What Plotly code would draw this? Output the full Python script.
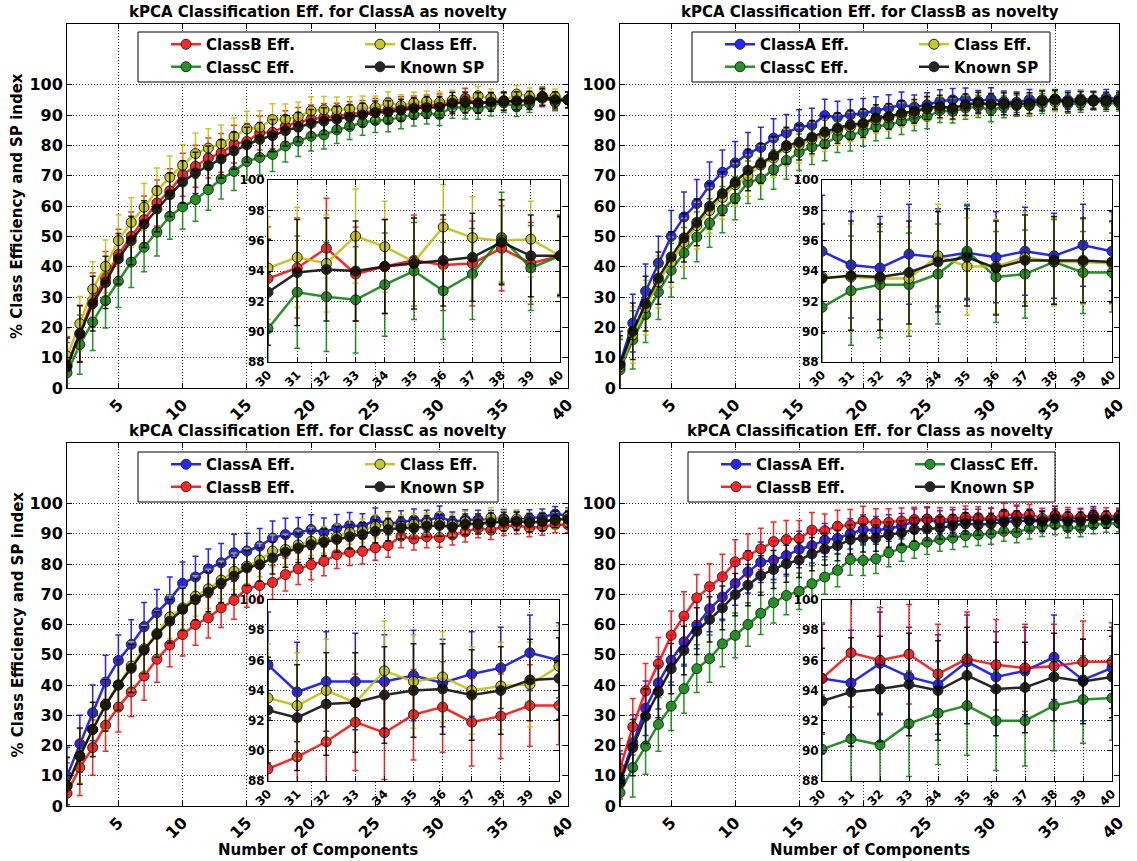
import plotly.graph_objects as go

W, H = 1137, 861
components = list(range(1, 41))

# ---------------- Panel 1: ClassA as novelty ----------------
p1_classB = [7.5, 18.0, 29.0, 36.3, 44.0, 50.0, 55.5, 61.0, 65.0, 70.3,
             73.1, 75.8, 77.5, 80.4, 81.3, 84.1, 84.3, 86.3, 87.6, 88.6,
             89.2, 89.6, 90.3, 90.8, 91.5, 91.8, 92.4, 92.8, 93.2,
             93.5, 94.2, 95.5, 93.8, 94.3, 94.7, 94.4, 94.5, 95.5, 94.5, 95.0]
p1_classC = [5.0, 14.3, 21.8, 28.8, 35.2, 41.5, 46.4, 51.4, 56.6, 59.7,
             62.1, 65.4, 68.9, 71.4, 74.7, 76.0, 77.0, 79.8, 81.4, 83.0,
             83.5, 85.1, 86.2, 87.5, 88.2, 88.4, 89.3, 90.1, 90.6,
             90.2, 92.6, 92.3, 92.1, 93.1, 94.0, 92.7, 93.8, 96.2, 94.2, 95.0]
p1_class = [10.5, 21.2, 32.6, 40.1, 48.6, 54.6, 59.6, 65.0, 69.5, 73.4,
            77.3, 79.1, 80.5, 83.0, 85.4, 85.9, 88.5, 88.6, 89.4, 91.4,
            91.7, 91.7, 92.0, 92.4, 92.5, 94.0, 93.1, 94.0, 94.5,
            94.2, 94.9, 94.5, 96.3, 95.6, 94.6, 96.9, 96.2, 96.0, 96.1, 95.0]
p1_sp = [7.0, 17.8, 27.8, 34.8, 42.6, 48.6, 54.0, 59.0, 63.7, 67.9,
         70.9, 73.3, 75.5, 78.2, 80.2, 82.0, 83.2, 84.8, 86.0, 87.2,
         88.0, 88.6, 89.3, 90.0, 90.8, 91.0, 91.6, 92.2, 92.4,
         92.6, 93.9, 94.1, 94.0, 94.3, 94.5, 94.7, 94.9, 95.9, 95.0, 95.0]
p1_classB_err = [9.5, 9.3, 9.0, 8.7, 8.3, 8.0, 7.8, 7.6, 7.3, 7.1, 6.9, 6.6, 6.4, 6.2, 5.9, 5.6, 5.4, 5.1, 4.9, 4.7,
                 4.5, 4.3, 4.1, 4.0, 3.9, 3.7, 3.6, 3.5, 3.4, 3.4, 3.3, 3.3, 3.1, 3.1, 3.0, 3.0, 2.8, 2.8, 2.7, 2.6]
p1_classC_err = [10.0, 9.8, 9.4, 9.0, 8.7, 8.4, 8.1, 7.9, 7.6, 7.3, 7.1, 6.8, 6.6, 6.3, 6.1, 5.8, 5.6, 5.3, 5.1, 4.9,
                 4.7, 4.5, 4.3, 4.2, 4.0, 3.9, 3.8, 3.7, 3.6, 3.7, 3.7, 3.6, 3.5, 3.4, 3.2, 3.2, 3.0, 3.0, 2.8, 2.7]
p1_class_err = [9.0, 9.0, 9.0, 8.7, 8.5, 8.1, 7.8, 7.5, 7.0, 6.9, 6.7, 6.4, 6.2, 6.0, 5.8, 5.5, 5.2, 5.0, 4.8, 4.6,
                4.4, 4.2, 4.0, 3.9, 3.8, 3.7, 3.6, 3.5, 3.4, 3.4, 3.3, 3.2, 3.1, 3.0, 2.9, 2.8, 2.7, 2.7, 2.5, 2.5]
p1_sp_err = [9.5, 9.3, 9.0, 8.6, 8.3, 8.0, 7.7, 7.5, 7.2, 7.0, 6.8, 6.5, 6.3, 6.1, 5.8, 5.5, 5.3, 5.0, 4.8, 4.6,
             4.4, 4.2, 4.0, 3.9, 3.8, 3.7, 3.6, 3.5, 3.5, 3.5, 3.5, 3.4, 3.3, 3.1, 3.0, 3.0, 2.9, 2.8, 2.7, 2.6]

# ---------------- Panel 2: ClassB as novelty ----------------
p2_classA = [8.2, 21.4, 31.9, 41.2, 50.0, 56.4, 60.8, 66.8, 71.1, 74.2,
             77.3, 79.3, 82.4, 84.1, 86.0, 86.6, 89.8, 89.3, 90.1, 90.6,
             91.4, 92.3, 93.4, 92.6, 93.4, 94.5, 95.0, 95.3, 94.5,
             95.3, 94.4, 94.2, 95.1, 94.9, 95.2, 94.9, 95.3, 95.0, 95.7, 95.3]
p2_classC = [6.0, 15.9, 24.2, 31.6, 38.8, 44.5, 49.8, 54.4, 58.8, 62.6,
             67.8, 69.0, 72.0, 75.0, 77.7, 79.5, 80.4, 82.9, 83.2, 84.6,
             86.2, 86.8, 87.9, 89.0, 89.5, 91.4, 91.2, 92.3, 92.8,
             91.6, 92.7, 93.1, 93.1, 93.8, 95.3, 93.6, 93.8, 94.6, 93.9, 93.9]
p2_class = [7.0, 17.5, 26.5, 35.0, 41.5, 48.0, 53.5, 58.5, 62.8, 67.0,
            70.0, 73.5, 75.8, 79.2, 80.0, 82.0, 83.3, 85.0, 86.0, 86.8,
            88.4, 89.0, 90.0, 90.6, 92.0, 92.4, 92.0, 93.0, 93.5,
            93.6, 93.6, 93.5, 93.5, 95.0, 94.3, 94.3, 94.9, 94.6, 94.6, 94.5]
p2_sp = [7.7, 18.7, 27.8, 36.2, 43.2, 49.5, 54.6, 59.9, 64.1, 67.8,
         71.8, 74.0, 76.6, 79.9, 81.0, 82.7, 84.4, 85.7, 86.8, 87.3,
         89.0, 89.5, 90.6, 91.2, 92.3, 92.8, 92.3, 93.4, 94.0,
         93.5, 93.7, 93.6, 93.9, 94.6, 94.9, 94.2, 94.7, 94.7, 94.7, 94.6]
p2_classA_err = [10.5, 9.5, 9.0, 8.8, 8.5, 8.2, 7.9, 7.7, 7.4, 7.1, 6.9, 6.7, 6.4, 6.1, 5.7, 5.6, 5.4, 5.2, 5.0, 4.8,
                 4.6, 4.4, 4.2, 4.0, 3.9, 3.8, 3.7, 3.6, 3.6, 3.7, 3.5, 3.4, 3.3, 3.2, 3.1, 3.0, 2.9, 2.8, 2.7, 2.6]
p2_classC_err = [10.0, 9.6, 9.2, 9.0, 8.8, 8.4, 8.2, 8.0, 7.6, 7.1, 7.0, 6.8, 6.5, 6.2, 6.0, 5.8, 5.5, 5.3, 5.1, 4.9,
                 4.7, 4.5, 4.3, 4.2, 4.0, 3.9, 3.8, 3.7, 3.6, 3.8, 3.6, 3.5, 3.4, 3.3, 3.1, 3.0, 2.9, 2.8, 2.7, 2.6]
p2_class_err = [9.5, 9.3, 9.0, 8.6, 8.3, 8.0, 7.7, 7.5, 7.2, 7.0, 6.8, 6.5, 6.3, 6.1, 5.8, 5.5, 5.3, 5.0, 4.8, 4.6,
                4.4, 4.2, 4.0, 3.9, 3.8, 3.7, 3.6, 3.5, 3.5, 3.6, 3.5, 3.4, 3.4, 3.4, 3.2, 3.1, 3.0, 2.9, 2.8, 2.7]
p2_sp_err = [9.5, 9.3, 9.0, 8.6, 8.3, 8.0, 7.7, 7.5, 7.2, 7.0, 6.8, 6.5, 6.3, 6.1, 5.8, 5.5, 5.3, 5.0, 4.8, 4.6,
             4.4, 4.2, 4.0, 3.9, 3.8, 3.7, 3.6, 3.5, 3.5, 3.6, 3.6, 3.5, 3.4, 3.3, 3.2, 3.1, 3.0, 2.9, 2.8, 2.7]

# ---------------- Panel 3: ClassC as novelty ----------------
p3_classA = [9.9, 20.6, 30.8, 41.0, 48.1, 53.4, 59.3, 63.9, 68.3, 73.6,
             75.7, 78.4, 80.4, 83.7, 84.3, 85.9, 88.6, 89.7, 90.3, 91.4,
             90.5, 91.9, 92.7, 92.5, 94.5, 93.4, 93.8, 94.5, 94.2,
             95.7, 93.9, 94.6, 94.6, 94.6, 95.0, 94.5, 95.1, 95.5, 96.5, 96.0]
p3_classB = [4.2, 12.7, 19.3, 26.7, 32.7, 37.7, 43.0, 48.5, 53.2, 56.7,
             60.0, 62.2, 65.5, 68.0, 71.9, 72.9, 73.9, 76.5, 78.4, 79.8,
             80.9, 83.1, 83.9, 84.2, 85.3, 86.1, 89.2, 88.3, 89.0,
             88.8, 89.6, 90.6, 91.9, 91.2, 92.4, 92.9, 91.9, 92.3, 93.0, 93.0]
p3_class = [6.6, 16.5, 25.3, 33.6, 40.0, 46.3, 52.0, 57.0, 62.5, 65.5,
            69.4, 71.8, 74.7, 77.6, 79.3, 81.3, 84.3, 84.8, 86.3, 87.5,
            88.0, 89.0, 90.5, 91.0, 92.5, 93.2, 92.5, 93.2, 93.5,
            93.5, 93.0, 94.0, 93.2, 95.3, 94.6, 94.9, 94.0, 94.3, 94.4, 95.6]
p3_sp = [6.6, 16.5, 25.3, 33.3, 40.0, 45.5, 51.5, 56.7, 61.1, 65.0,
         68.3, 70.7, 73.6, 76.0, 78.7, 79.8, 82.0, 83.9, 85.3, 86.4,
         87.2, 88.1, 89.0, 89.7, 90.8, 91.4, 91.9, 91.9, 92.5,
         92.7, 92.2, 93.1, 93.2, 93.7, 94.0, 94.1, 93.7, 94.0, 94.7, 94.8]
p3_classA_err = [9.5, 9.4, 9.2, 8.8, 8.4, 8.2, 8.0, 7.7, 7.4, 7.1, 6.9, 6.6, 6.4, 6.1, 5.9, 5.8, 5.6, 5.4, 5.1, 4.9,
                 4.7, 4.5, 4.3, 4.1, 4.0, 3.9, 3.8, 3.7, 3.6, 3.5, 3.3, 3.3, 3.2, 3.1, 3.0, 2.9, 2.8, 2.7, 2.5, 2.5]
p3_classB_err = [10.0, 9.2, 9.1, 8.6, 8.2, 8.1, 8.0, 7.6, 7.2, 7.1, 6.9, 6.7, 6.5, 6.3, 6.2, 5.9, 5.6, 5.4, 5.2, 5.0,
                 4.8, 4.6, 4.4, 4.2, 4.1, 3.9, 3.8, 3.7, 3.6, 3.3, 3.3, 3.3, 3.2, 3.1, 3.0, 3.0, 2.9, 2.8, 2.7, 2.6]
p3_class_err = [9.0, 9.0, 8.8, 8.5, 8.2, 8.0, 7.7, 7.4, 7.1, 6.9, 6.7, 6.5, 6.2, 6.0, 5.8, 5.5, 5.3, 5.0, 4.8, 4.6,
                4.4, 4.2, 4.0, 3.9, 3.8, 3.7, 3.6, 3.5, 3.4, 3.6, 3.5, 3.4, 3.3, 3.3, 3.1, 3.0, 2.9, 2.9, 2.8, 2.7]
p3_sp_err = [9.5, 9.3, 9.0, 8.6, 8.3, 8.0, 7.7, 7.5, 7.2, 7.0, 6.8, 6.5, 6.3, 6.1, 5.8, 5.5, 5.3, 5.0, 4.8, 4.6,
             4.4, 4.2, 4.0, 3.9, 3.8, 3.7, 3.6, 3.5, 3.5, 3.5, 3.5, 3.4, 3.3, 3.2, 3.1, 3.0, 3.0, 2.9, 2.7, 2.7]

# ---------------- Panel 4: Class as novelty ----------------
p4_classA = [8.8, 20.9, 32.3, 40.7, 48.2, 54.3, 59.8, 65.2, 69.1, 73.6,
             77.4, 80.6, 81.3, 82.8, 84.8, 86.1, 87.9, 88.5, 90.0, 91.4,
             91.1, 91.9, 92.5, 94.2, 94.7, 93.8, 94.2, 94.5, 94.6,
             94.8, 94.5, 95.8, 94.9, 94.4, 95.9, 94.9, 95.3, 96.2, 94.7, 95.5]
p4_classB = [12.3, 26.2, 38.0, 47.0, 56.4, 62.8, 68.8, 72.5, 75.8, 80.7,
             82.8, 85.0, 87.4, 88.1, 88.4, 91.2, 91.0, 92.5, 92.9, 94.2,
             93.6, 93.8, 94.2, 94.7, 94.9, 94.7, 94.9, 95.5, 95.3,
             94.8, 96.5, 96.0, 96.4, 95.1, 96.1, 95.7, 95.5, 95.6, 95.9, 95.9]
p4_classC = [4.4, 12.7, 19.8, 27.0, 33.0, 38.8, 45.4, 48.7, 53.6, 56.4,
             60.0, 63.7, 67.2, 69.6, 71.0, 73.5, 75.7, 77.9, 81.5, 81.2,
             81.7, 83.7, 85.3, 86.1, 87.2, 88.1, 88.6, 89.4, 89.7,
             90.1, 90.8, 90.4, 91.8, 92.5, 93.0, 92.0, 92.0, 93.0, 93.4, 93.5]
p4_sp = [7.7, 19.3, 29.7, 37.8, 45.4, 51.4, 57.8, 61.7, 65.5, 69.9,
         73.0, 76.2, 78.2, 80.1, 81.3, 83.3, 84.9, 86.1, 88.1, 88.6,
         88.6, 89.7, 90.3, 91.4, 91.6, 91.9, 92.7, 93.4, 93.0,
         93.3, 93.9, 94.1, 94.4, 94.0, 95.0, 94.1, 94.2, 94.9, 94.6, 94.9]
p4_classA_err = [9.5, 9.3, 9.0, 8.6, 8.3, 8.0, 7.8, 7.6, 7.4, 7.2, 7.0, 6.7, 6.4, 6.2, 6.0, 5.8, 5.5, 5.2, 5.0, 4.8,
                 4.6, 4.4, 4.2, 4.0, 3.9, 3.8, 3.7, 3.6, 3.5, 3.6, 3.5, 3.4, 3.3, 3.3, 3.1, 3.0, 2.9, 2.8, 2.7, 2.7]
p4_classB_err = [10.0, 9.3, 9.1, 8.7, 8.1, 8.0, 7.7, 7.6, 7.4, 7.3, 7.1, 6.8, 6.5, 6.3, 6.0, 5.8, 5.5, 5.3, 5.1, 4.9,
                 4.7, 4.5, 4.3, 4.1, 4.0, 3.9, 3.8, 3.7, 3.6, 3.7, 3.6, 3.5, 3.3, 3.3, 3.1, 3.0, 2.9, 2.8, 2.7, 2.6]
p4_classC_err = [9.5, 9.7, 9.3, 8.9, 8.0, 8.1, 7.9, 7.8, 7.6, 7.4, 7.2, 7.0, 6.7, 6.4, 6.0, 5.9, 5.7, 5.4, 5.2, 5.0,
                 4.8, 4.6, 4.4, 4.2, 4.1, 3.9, 3.8, 3.7, 3.6, 3.6, 3.3, 3.4, 3.5, 3.4, 3.3, 3.3, 3.0, 3.0, 2.9, 2.8]
p4_sp_err = [9.5, 9.3, 9.0, 8.6, 8.3, 8.0, 7.7, 7.5, 7.2, 7.0, 6.8, 6.5, 6.3, 6.1, 5.8, 5.5, 5.3, 5.0, 4.8, 4.6,
             4.4, 4.2, 4.0, 3.9, 3.8, 3.7, 3.6, 3.5, 3.5, 3.5, 3.6, 3.5, 3.4, 3.3, 3.2, 3.1, 3.0, 2.9, 2.8, 2.7]

titles = ["kPCA Classification Eff. for ClassA as novelty",
          "kPCA Classification Eff. for ClassB as novelty",
          "kPCA Classification Eff. for ClassC as novelty",
          "kPCA Classification Eff. for Class as novelty"]

BLUE, RED, GREEN, YELLOW, BLACK = "#0000ff", "#ff0000", "#008000", "#bfbf00", "#000000"

panels = [
    [("ClassB Eff.", p1_classB, p1_classB_err, RED),
     ("ClassC Eff.", p1_classC, p1_classC_err, GREEN),
     ("Class Eff.", p1_class, p1_class_err, YELLOW),
     ("Known SP", p1_sp, p1_sp_err, BLACK)],
    [("ClassA Eff.", p2_classA, p2_classA_err, BLUE),
     ("ClassC Eff.", p2_classC, p2_classC_err, GREEN),
     ("Class Eff.", p2_class, p2_class_err, YELLOW),
     ("Known SP", p2_sp, p2_sp_err, BLACK)],
    [("ClassA Eff.", p3_classA, p3_classA_err, BLUE),
     ("ClassB Eff.", p3_classB, p3_classB_err, RED),
     ("Class Eff.", p3_class, p3_class_err, YELLOW),
     ("Known SP", p3_sp, p3_sp_err, BLACK)],
    [("ClassA Eff.", p4_classA, p4_classA_err, BLUE),
     ("ClassB Eff.", p4_classB, p4_classB_err, RED),
     ("ClassC Eff.", p4_classC, p4_classC_err, GREEN),
     ("Known SP", p4_sp, p4_sp_err, BLACK)],
]

# layout geometry in pixels (left, right, top, bottom)
main_boxes = [(67, 568, 24, 388), (620, 1119, 24, 388), (67, 568, 443, 806), (620, 1119, 443, 806)]
inset_boxes = [(268, 560, 180, 362), (822, 1112, 180, 362), (268, 559, 600, 781), (822, 1112, 600, 781)]
legend_boxes = [(138, 498, 32, 82), (692, 1050, 32, 82), (138, 498, 452, 502), (688, 1055, 452, 502)]

FONT = "DejaVu Sans"


def fx(p):
    return p / W


def fy(p):
    return 1 - p / H


fig = go.Figure()
layout = dict(width=W, height=H, margin=dict(l=0, r=0, t=0, b=0, pad=0),
              paper_bgcolor="white", plot_bgcolor="white", showlegend=True,
              font=dict(family=FONT, color="black"))
shapes, annotations = [], []

for i, series in enumerate(panels):
    mx = "x" if i == 0 else f"x{i + 1}"
    my = "y" if i == 0 else f"y{i + 1}"
    ix, iy = f"x{i + 5}", f"y{i + 5}"
    leg_a = "legend" if i == 0 else f"legend{2 * i + 1}"
    leg_b = f"legend{2 * i + 2}"
    for j, (name, vals, errs, col) in enumerate(series):
        common = dict(mode="lines+markers", opacity=0.85,
                      line=dict(color=col, width=2.5),
                      marker=dict(size=10, color=col, line=dict(color="black", width=1)))
        fig.add_trace(go.Scatter(x=components, y=vals, name=name, xaxis=mx, yaxis=my,
                                 legend=leg_a if j < 2 else leg_b,
                                 error_y=dict(type="data", array=errs, color=col, thickness=1.5, width=3),
                                 **common))
        fig.add_trace(go.Scatter(x=components[29:], y=vals[29:], name=name, xaxis=ix, yaxis=iy,
                                 showlegend=False,
                                 error_y=dict(type="data", array=errs[29:], color=col, thickness=1.5, width=3),
                                 **common))

    l, r, t, b = main_boxes[i]
    axcommon = dict(showline=True, linecolor="black", linewidth=1, mirror="allticks",
                    ticks="inside", ticklen=5, tickcolor="black", automargin=False,
                    showgrid=True, gridcolor="rgba(0,0,0,0.8)", griddash="1px,2px", gridwidth=1,
                    zeroline=False)
    layout["xaxis" if i == 0 else f"xaxis{i + 1}"] = dict(
        domain=[fx(l), fx(r)], range=[1, 40], anchor=my,
        tickvals=[5, 10, 15, 20, 25, 30, 35, 40], tickangle=-45,
        tickfont=dict(family=FONT, size=16, weight="bold", color="black"), **axcommon)
    layout["yaxis" if i == 0 else f"yaxis{i + 1}"] = dict(
        domain=[fy(b), fy(t)], range=[0, 120], anchor=mx,
        tickvals=list(range(0, 101, 10)),
        tickfont=dict(family=FONT, size=16, weight="bold", color="black"), **axcommon)

    il, ir, it, ib = inset_boxes[i]
    layout[f"xaxis{i + 5}"] = dict(
        domain=[fx(il), fx(ir)], range=[30, 40], anchor=iy,
        tickvals=list(range(30, 41)), tickangle=-45,
        tickfont=dict(family=FONT, size=12, weight="bold", color="black"), **axcommon)
    layout[f"yaxis{i + 5}"] = dict(
        domain=[fy(ib), fy(it)], range=[88, 100], anchor=ix,
        tickvals=list(range(88, 101, 2)),
        tickfont=dict(family=FONT, size=12, weight="bold", color="black"), **axcommon)

    # legend frame and two legend columns
    bl, br, bt, bb = legend_boxes[i]
    shapes.append(dict(type="rect", xref="paper", yref="paper", x0=fx(bl), x1=fx(br), y0=fy(bb), y1=fy(bt),
                       line=dict(color="black", width=1), fillcolor="white", layer="above"))
    legcommon = dict(xanchor="left", yanchor="top", bgcolor="rgba(0,0,0,0)", borderwidth=0,
                     font=dict(family=FONT, size=15, weight="bold", color="black"),
                     itemwidth=30, tracegroupgap=0, orientation="v")
    layout[leg_a] = dict(x=fx(bl + 28), y=fy(bt - 4), **legcommon)
    layout[leg_b] = dict(x=fx(bl + 222), y=fy(bt - 4), **legcommon)

    # panel title
    annotations.append(dict(text=titles[i], xref="paper", yref="paper", x=fx((l + r) / 2), y=fy(t - 1),
                            xanchor="center", yanchor="bottom", showarrow=False,
                            font=dict(family=FONT, size=15, weight="bold", color="black")))
    if i in (0, 2):
        annotations.append(dict(text="% Class Efficiency and SP index", xref="paper", yref="paper",
                                x=fx(17), y=fy((t + b) / 2), textangle=-90, showarrow=False,
                                xanchor="center", yanchor="middle",
                                font=dict(family=FONT, size=15, weight="bold", color="black")))
    if i in (2, 3):
        annotations.append(dict(text="Number of Components", xref="paper", yref="paper",
                                x=fx((l + r) / 2), y=fy(850), showarrow=False,
                                xanchor="center", yanchor="middle",
                                font=dict(family=FONT, size=15, weight="bold", color="black")))

layout["shapes"] = shapes
layout["annotations"] = annotations
fig.update_layout(**layout)
fig.write_html("out.html", config={"displayModeBar": False},
               post_script="document.body.style.margin='0px';document.body.style.overflow='hidden';")
